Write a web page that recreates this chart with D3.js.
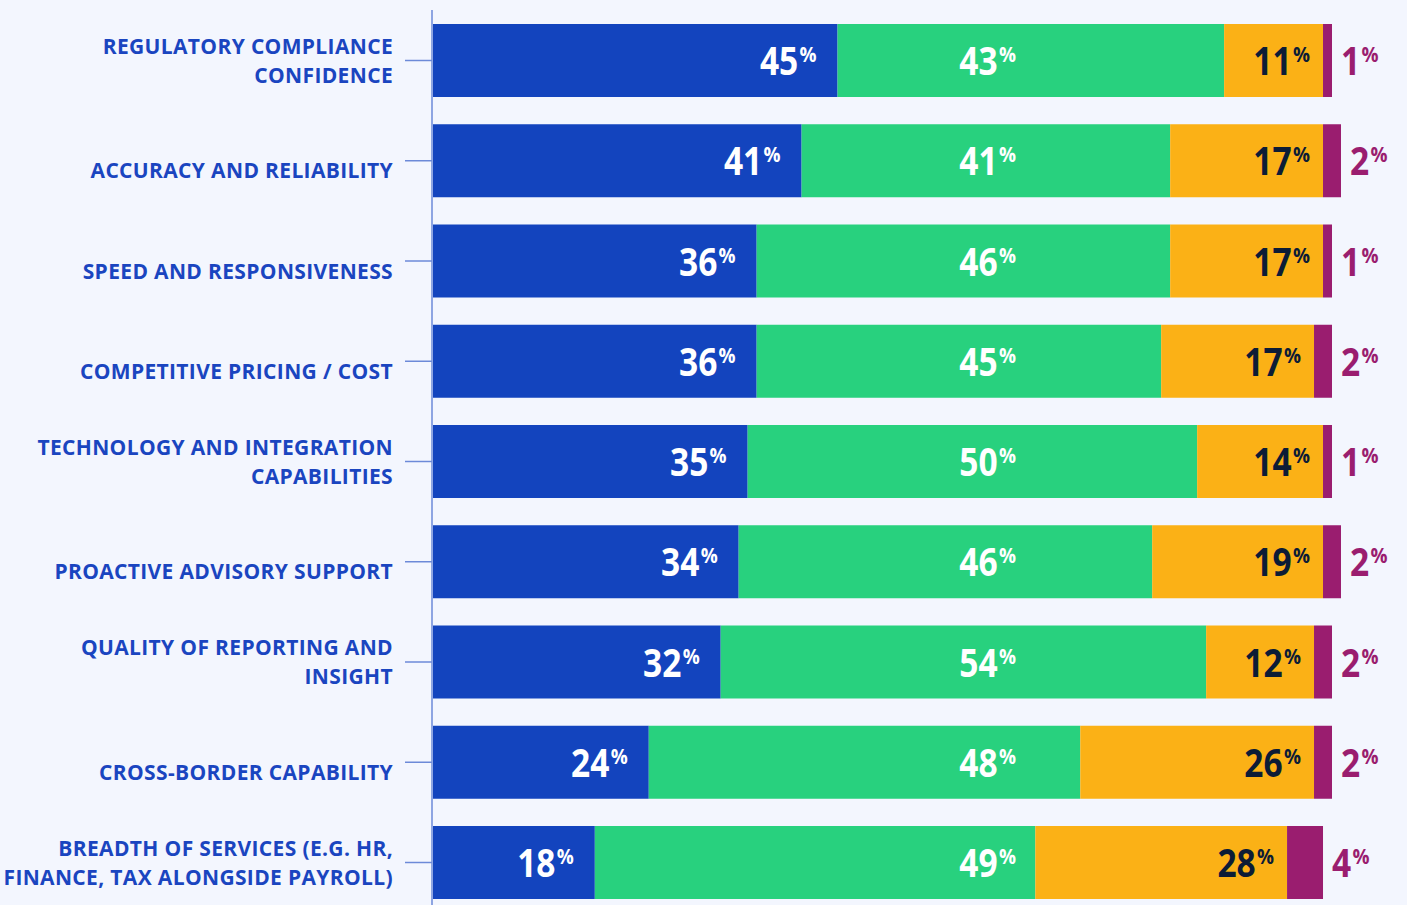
<!DOCTYPE html>
<html>
<head>
<meta charset="utf-8">
<script src="https://cdn.jsdelivr.net/npm/d3@7"></script>
<style>
  html, body { margin: 0; padding: 0; background: #f3f6fe; }
  #chart { width: 1407px; height: 905px; }
</style>
</head>
<body>
<div id="chart"></div>
<script>
// Categories (each entry is the lines of the label)
const categories = [
    ["REGULATORY COMPLIANCE", "CONFIDENCE"],
    ["ACCURACY AND RELIABILITY"],
    ["SPEED AND RESPONSIVENESS"],
    ["COMPETITIVE PRICING / COST"],
    ["TECHNOLOGY AND INTEGRATION", "CAPABILITIES"],
    ["PROACTIVE ADVISORY SUPPORT"],
    ["QUALITY OF REPORTING AND", "INSIGHT"],
    ["CROSS-BORDER CAPABILITY"],
    ["BREADTH OF SERVICES (E.G. HR,", "FINANCE, TAX ALONGSIDE PAYROLL)"]
];
// Series values (%)
const seriesBlue   = [45, 41, 36, 36, 35, 34, 32, 24, 18];
const seriesGreen  = [43, 41, 46, 45, 50, 46, 54, 48, 49];
const seriesYellow = [11, 17, 17, 17, 14, 19, 12, 26, 28];
const seriesPurple = [1, 2, 1, 2, 1, 2, 2, 2, 4];

const colors = ["#1344be", "#28d17e", "#fbb116", "#9a1d6f"];
const labelColors = ["#ffffff", "#ffffff", "#0c1c36", "#9a1d6f"];

function initializeSVG() {
    const width = 1407, height = 905;
    const svg = d3.select("#chart")
        .append("svg")
        .attr("width", width)
        .attr("height", height);
    return { svg, width, height };
}

function createScales() {
    const x = d3.scaleLinear().domain([0, 100]).range([433, 1332]);
    const y = d3.scaleBand()
        .domain(d3.range(categories.length))
        .range([10.375, 912.625])
        .paddingInner(0.2718)
        .paddingOuter(0.1359);
    return { x, y };
}

function buildRows() {
    return categories.map((c, i) => {
        const vals = [seriesBlue[i], seriesGreen[i], seriesYellow[i], seriesPurple[i]];
        let acc = 0;
        const segs = vals.map((v, k) => {
            const s = { row: i, k, v, x0: acc, x1: acc + v };
            acc += v;
            return s;
        });
        return { i, segs, total: acc };
    });
}

function drawAxis(svg, x, y) {
    const axis = svg.append("g").attr("transform", `translate(432,0)`);
    axis.append("line")
        .attr("x1", 0).attr("x2", 0)
        .attr("y1", 10).attr("y2", 905)
        .attr("stroke", "#6c8ad8").attr("stroke-width", 1.5);
    axis.selectAll("line.tick")
        .data(d3.range(categories.length))
        .enter().append("line")
        .attr("class", "tick")
        .attr("x1", -27).attr("x2", 0)
        .attr("y1", d => y(d) + y.bandwidth() / 2)
        .attr("y2", d => y(d) + y.bandwidth() / 2)
        .attr("stroke", "#6c8ad8").attr("stroke-width", 1.5);
}

function drawCategoryLabels(svg, y) {
    const lineH = 29;
    const g = svg.append("g")
        .attr("font-family", "'Open Sans', sans-serif")
        .attr("font-weight", 700)
        .attr("font-size", 21)
        .attr("letter-spacing", "0.35px")
        .attr("fill", "#1a45c0")
        .attr("text-anchor", "end");
    categories.forEach((lines, i) => {
        const cy = y(i) + y.bandwidth() / 2 + (lines.length > 1 ? 0 : 10);
        const t = g.append("text").attr("x", 393);
        lines.forEach((ln, j) => {
            t.append("tspan")
                .attr("x", 393)
                .attr("y", cy + (j - (lines.length - 1) / 2) * lineH + 7.5)
                .text(ln);
        });
    });
}

function drawBars(svg, rows, x, y) {
    svg.append("g").selectAll("g")
        .data(rows)
        .enter().append("g")
        .selectAll("rect")
        .data(d => d.segs)
        .enter().append("rect")
        .attr("x", d => x(d.x0))
        .attr("width", d => x(d.x1) - x(d.x0))
        .attr("y", d => y(d.row))
        .attr("height", y.bandwidth())
        .attr("fill", d => colors[d.k]);
}

function valueLabel(g, px, py, value, anchor, color) {
    const t = g.append("text")
        .attr("transform", `translate(${px},${py}) scale(0.86,1)`)
        .attr("text-anchor", anchor)
        .attr("fill", color)
        .attr("font-family", "'Open Sans', sans-serif")
        .attr("font-weight", 700)
        .attr("font-size", 39);
    t.append("tspan").text(value);
    t.append("tspan")
        .attr("font-size", 22)
        .attr("dy", -13)
        .attr("dx", 1.5)
        .text("%");
}

function drawValueLabels(svg, rows, x, y) {
    const g = svg.append("g");
    rows.forEach(r => {
        const base = y(r.i) + y.bandwidth() / 2 + 14.5;
        const [b, gr, ye, pu] = r.segs;
        valueLabel(g, x(b.x1) - 21, base, b.v, "end", labelColors[0]);
        valueLabel(g, x(61.7), base, gr.v, "middle", labelColors[1]);
        valueLabel(g, x(ye.x1) - 13, base, ye.v, "end", labelColors[2]);
        valueLabel(g, x(pu.x1) + 9, base, pu.v, "start", labelColors[3]);
    });
}

function addChart() {
    const { svg } = initializeSVG();
    const { x, y } = createScales();
    const rows = buildRows();
    drawBars(svg, rows, x, y);
    drawAxis(svg, x, y);
    drawCategoryLabels(svg, y);
    drawValueLabels(svg, rows, x, y);
}

addChart();
</script>
</body>
</html>
